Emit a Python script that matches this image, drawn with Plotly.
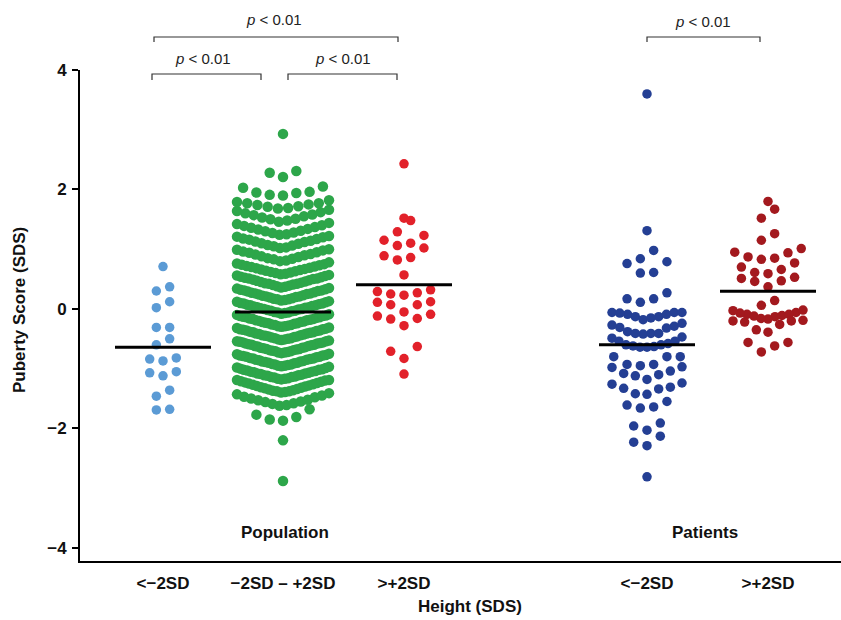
import plotly.graph_objects as go

# ---------------- data (Puberty score SDS) ----------------
categories = ["<−2SD", "−2SD – +2SD", ">+2SD", "<−2SD", ">+2SD"]
section_labels = ["Population", "Patients"]
y_tickvals = [-4, -2, 0, 2, 4]
y_ticktext = ["−4", "−2", "0", "2", "4"]
p_labels = ["p < 0.01", "p < 0.01", "p < 0.01", "p < 0.01"]

pop_short = [0.71, 0.37, 0.30, 0.12, 0.02, -0.31, -0.31, -0.50, -0.60, -0.84, -0.87,
             -0.82, -1.05, -1.12, -1.07, -1.36, -1.46, -1.69, -1.68]

pop_normal = [
    -2.88, -2.20,
    -1.87, -1.85, -1.81, -1.77, -1.68,
    -1.62, -1.61, -1.59, -1.58, -1.56, -1.55, -1.53, -1.52, -1.50, -1.48, -1.47, -1.45, -1.43, -1.41,
    -1.40, -1.39, -1.38, -1.38, -1.37, -1.36, -1.35, -1.34, -1.33, -1.32, -1.31, -1.30, -1.29, -1.28,
    -1.27, -1.26, -1.25, -1.24, -1.23, -1.22, -1.21, -1.20, -1.19, -1.19,
    -1.18, -1.17, -1.17, -1.16, -1.15, -1.14, -1.14, -1.13, -1.12, -1.11, -1.11, -1.10, -1.09, -1.08,
    -1.08, -1.07, -1.06, -1.05, -1.05, -1.04, -1.03, -1.02, -1.02, -1.01, -1.00, -0.99, -0.98, -0.97,
    -0.96, -0.95, -0.95, -0.94, -0.93, -0.93, -0.92, -0.91, -0.90, -0.90, -0.89, -0.88, -0.88, -0.87,
    -0.86, -0.85, -0.85, -0.84, -0.83, -0.83, -0.82, -0.81, -0.80, -0.80, -0.79, -0.78, -0.78, -0.77,
    -0.76, -0.75,
    -0.74, -0.73, -0.73, -0.72, -0.71, -0.71, -0.70, -0.69, -0.69, -0.68, -0.67, -0.67, -0.66, -0.65,
    -0.65, -0.64, -0.63, -0.62, -0.62, -0.61, -0.60, -0.60, -0.59, -0.58, -0.58, -0.57, -0.56, -0.56,
    -0.55, -0.54, -0.54, -0.53,
    -0.52, -0.51, -0.51, -0.50, -0.49, -0.49, -0.48, -0.47, -0.46, -0.46, -0.45, -0.44, -0.44, -0.43,
    -0.42, -0.41, -0.41, -0.40, -0.39, -0.39, -0.38, -0.37, -0.36, -0.36, -0.35, -0.34, -0.34, -0.33,
    -0.32, -0.31,
    -0.30, -0.29, -0.29, -0.28, -0.27, -0.27, -0.26, -0.25, -0.24, -0.24, -0.23, -0.22, -0.22, -0.21,
    -0.20, -0.19, -0.19, -0.18, -0.17, -0.17, -0.16, -0.15, -0.14, -0.14, -0.13, -0.12, -0.12, -0.11,
    -0.10, -0.09,
    -0.08, -0.07, -0.06, -0.06, -0.05, -0.04, -0.03, -0.03, -0.02, -0.01, 0.00, 0.00, 0.01, 0.02,
    0.03, 0.03, 0.04, 0.05, 0.06, 0.06, 0.07, 0.08, 0.09, 0.09, 0.10, 0.11, 0.12, 0.13,
    0.14, 0.15, 0.16, 0.16, 0.17, 0.18, 0.19, 0.20, 0.21, 0.21, 0.22, 0.23, 0.24, 0.25,
    0.26, 0.26, 0.27, 0.28, 0.29, 0.30, 0.31, 0.31, 0.32, 0.33, 0.34, 0.35,
    0.36, 0.37, 0.38, 0.39, 0.40, 0.41, 0.42, 0.42, 0.43, 0.44, 0.45, 0.46, 0.47, 0.48,
    0.49, 0.50, 0.51, 0.51, 0.52, 0.53, 0.54, 0.55, 0.56, 0.57,
    0.58, 0.59, 0.60, 0.61, 0.62, 0.63, 0.64, 0.65, 0.66, 0.67, 0.68, 0.69, 0.70, 0.71,
    0.72, 0.73, 0.74, 0.75, 0.76, 0.78,
    0.80, 0.81, 0.83, 0.84, 0.85, 0.87, 0.88, 0.90, 0.91, 0.92, 0.94, 0.95, 0.96, 0.98, 0.99, 1.00,
    1.02, 1.03, 1.05, 1.06, 1.07, 1.09, 1.10, 1.12, 1.13, 1.14, 1.16, 1.17, 1.18, 1.20, 1.21, 1.22,
    1.24, 1.25, 1.27, 1.28, 1.30, 1.31, 1.33, 1.34, 1.36, 1.37, 1.39, 1.40, 1.42, 1.44,
    1.46, 1.48, 1.50, 1.51, 1.53, 1.55, 1.57, 1.58, 1.60, 1.62, 1.64, 1.66,
    1.68, 1.69, 1.71, 1.72, 1.74, 1.75, 1.77, 1.77, 1.79, 1.82,
    1.90, 1.91, 1.94, 1.95, 1.96, 2.03, 2.05,
    2.21, 2.28, 2.31,
    2.93,
]

pop_tall = [2.43, 1.52, 1.48, 1.23, 1.29, 1.10, 1.06, 1.02, 1.15, 0.89, 0.82, 0.86, 0.57,
            0.32, 0.27, 0.23, 0.25, 0.29, 0.11, 0.07, 0.07, 0.12, -0.09, -0.16, -0.05, -0.17,
            -0.12, -0.28, -0.71, -0.63, -0.83, -1.09]

pat_short = [3.60, 1.31, 0.98, 0.79, 0.84, 0.76, 0.61, 0.60, 0.17, 0.11, 0.17, 0.27,
             -0.06, -0.09, -0.13, -0.06, -0.06, -0.13, -0.09, -0.07, -0.18, -0.15,
             -0.29, -0.38, -0.41, -0.42, -0.41, -0.41, -0.32, -0.31, -0.27, -0.24,
             -0.47, -0.54, -0.58, -0.60, -0.63, -0.64, -0.64, -0.62, -0.60, -0.54, -0.49,
             -0.80, -0.80, -0.80, -0.98, -0.93, -0.95, -0.93, -1.04, -0.97,
             -1.08, -1.12, -1.18, -1.10, -1.24, -1.31, -1.34, -1.43, -1.42, -1.33, -1.26,
             -1.55, -1.64, -1.66, -1.61, -1.91, -2.03, -1.96, -2.23, -2.29, -2.13, -2.81]

pat_tall = [1.80, 1.67, 1.52, 1.26, 1.15, 0.95, 0.87, 0.83, 0.85, 0.94, 1.01,
            0.70, 0.61, 0.53, 0.47, 0.59, 0.66, 0.77, 0.46, 0.51, 0.37, 0.14, 0.06,
            -0.06, -0.09, -0.02, -0.12, -0.13, -0.11, -0.09, -0.07, -0.03, -0.17, -0.20,
            -0.22, -0.16, -0.26, -0.20, -0.19, -0.35, -0.39, -0.56, -0.62, -0.56, -0.72]

groups = [pop_short, pop_normal, pop_tall, pat_short, pat_tall]

# ---------------- styling / layout ----------------
colors = ["#5B9BD5", "#2DA64A", "#E2212A", "#243F94", "#A3191E"]
centers = [163, 283, 404, 647, 768]        # x positions (pixel-like axis units)
max_widths = [70, 92, 70, 70, 70]
marker_sizes = [9.5, 10.5, 9.5, 9.5, 9.5]
FONT = "Liberation Sans"
L, R, T, B = 80, 841, 70, 561


def swarm(vals, center, wmax, h=0.22, smax=13.3):
    order = sorted(range(len(vals)), key=lambda i: vals[i])
    bins = []
    for i in order:
        if bins and vals[i] < bins[-1][0] + h - 1e-9:
            bins[-1][1].append(i)
        else:
            bins.append((vals[i], [i]))
    xs = [center] * len(vals)
    for _, idxs in bins:
        n = len(idxs)
        s = smax if n <= 1 else min(smax, wmax / (n - 1))
        for k, i in enumerate(idxs):
            if n % 2 == 1:
                m = (k + 1) // 2
                sign = -1 if k % 2 == 1 else 1
                off = sign * m * s
            else:
                m = k // 2
                sign = -1 if k % 2 == 0 else 1
                off = sign * (m + 0.5) * s
            xs[i] = center + off
    return xs


fig = go.Figure()
for vals, c, col, w, ms in zip(groups, centers, colors, max_widths, marker_sizes):
    fig.add_trace(go.Scatter(x=swarm(vals, c, w), y=vals, mode="markers",
                             marker=dict(color=col, size=ms, line=dict(width=0)),
                             hoverinfo="y", showlegend=False))
for vals, c in zip(groups, centers):
    m = sum(vals) / len(vals)
    fig.add_trace(go.Scatter(x=[c - 48, c + 48], y=[m, m], mode="lines",
                             line=dict(color="black", width=3), showlegend=False,
                             hoverinfo="skip"))


def px_x(p):
    return (p - L) / (R - L)


def px_y(p):
    return (B - p) / (B - T)


brackets = [(154, 398, 37, 42, 274, 20), (152, 261, 74, 80, 203, 59),
            (288, 397, 74, 80, 343, 59), (647, 760, 37, 42, 703, 21)]
for (x0, x1, yl, yt, tx, ty), lab in zip(brackets, p_labels):
    fig.add_shape(type="path", xref="paper", yref="paper",
                  path=f"M {px_x(x0)},{px_y(yt)} L {px_x(x0)},{px_y(yl)} "
                       f"L {px_x(x1)},{px_y(yl)} L {px_x(x1)},{px_y(yt)}",
                  line=dict(color="#333333", width=1.2))
    fig.add_annotation(x=px_x(tx), y=px_y(ty), xref="paper", yref="paper",
                       text=lab.replace("p", "<i>p</i>", 1), showarrow=False,
                       font=dict(family=FONT, size=15, color="#222222"),
                       xanchor="center", yanchor="middle")

for lab, xpos in zip(section_labels, [285, 705]):
    fig.add_annotation(x=px_x(xpos), y=px_y(532), xref="paper", yref="paper",
                       text=lab, showarrow=False,
                       font=dict(family=FONT, size=17, color="#111111", weight="bold"),
                       xanchor="center", yanchor="middle")

fig.add_annotation(x=px_x(470), y=px_y(606), xref="paper", yref="paper",
                   text="Height (SDS)", showarrow=False,
                   font=dict(family=FONT, size=17, color="#111111", weight="bold"),
                   xanchor="center", yanchor="middle")
fig.add_annotation(x=px_x(19), y=px_y(310), xref="paper", yref="paper",
                   text="Puberty Score (SDS)", showarrow=False, textangle=-90,
                   font=dict(family=FONT, size=17, color="#111111", weight="bold"),
                   xanchor="center", yanchor="middle")

tickfont = dict(family=FONT, size=17, color="#111111", weight="bold")
fig.update_layout(
    width=841, height=620,
    margin=dict(l=L, r=841 - R, t=T, b=620 - B),
    plot_bgcolor="white", paper_bgcolor="white", showlegend=False,
    xaxis=dict(range=[L, R], showline=True, linecolor="black", linewidth=2,
               tickvals=centers, ticktext=categories, ticks="", showgrid=False,
               zeroline=False, tickfont=tickfont, ticklabelstandoff=6, fixedrange=True),
    yaxis=dict(range=[-4.22, 4.0], showline=True, linecolor="black", linewidth=2,
               ticks="outside", ticklen=6, tickwidth=2, tickcolor="black",
               tickvals=y_tickvals, ticktext=y_ticktext, showgrid=False, zeroline=False,
               tickfont=tickfont, ticklabelstandoff=2),
)

fig.write_html("out.html", config={"displayModeBar": False})

# remove the default 8px page margin so the figure sits at the window's top-left corner
with open("out.html", "r", encoding="utf-8") as f:
    html = f.read()
html = html.replace("<head>", "<head><style>html,body{margin:0;padding:0;overflow:hidden;}</style>", 1)
with open("out.html", "w", encoding="utf-8") as f:
    f.write(html)
